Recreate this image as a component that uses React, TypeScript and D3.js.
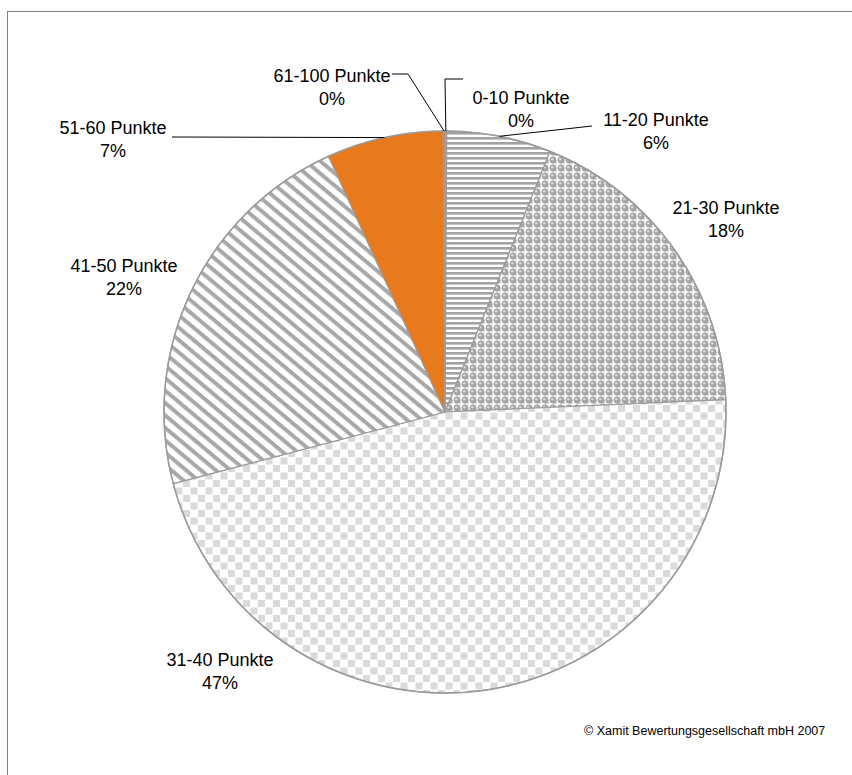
import { useEffect, useRef } from "react";
import * as d3 from "d3";

const categories = [
  "0-10 Punkte",
  "11-20 Punkte",
  "21-30 Punkte",
  "31-40 Punkte",
  "41-50 Punkte",
  "51-60 Punkte",
  "61-100 Punkte",
];
const shares = [0.1, 6.0, 18.2, 46.6, 22.3, 6.7, 0.1];
const percentLabels = ["0%", "6%", "18%", "47%", "22%", "7%", "0%"];
const copyright = "© Xamit Bewertungsgesellschaft mbH 2007";

// layout only: label block centres and leader elbows, relative to pie centre
const labelOffsets: [number, number][] = [
  [76, -303],
  [211, -281],
  [281, -193],
  [-225, 259],
  [-321, -135],
  [-332, -273],
  [-113, -325],
];
const leaderElbows: ([number, number][] | null)[] = [
  [[0, -333], [18, -333]],
  [[147, -286]],
  null,
  null,
  null,
  [[-273, -275]],
  [[-37, -338], [-53, -338]],
];
const fills = [
  "url(#hstripe)",
  "url(#hstripe)",
  "url(#spheres)",
  "url(#checker)",
  "url(#diag)",
  "#E8791C",
  "#E8791C",
];

export default function App() {
  const ref = useRef<SVGSVGElement>(null);

  useEffect(() => {
    if (!ref.current) return;
    const width = 852;
    const height = 775;
    const cx = 445;
    const cy = 412;
    const radius = 281;

    const svg = d3.select(ref.current);
    svg.selectAll("*").remove();
    svg.attr("width", width).attr("height", height);

    const defs = svg.append("defs");

    // horizontal stripes
    const hs = defs.append("pattern").attr("id", "hstripe")
      .attr("patternUnits", "userSpaceOnUse").attr("width", 6).attr("height", 5);
    hs.append("rect").attr("width", 6).attr("height", 5).attr("fill", "#ffffff");
    hs.append("rect").attr("y", 0).attr("width", 6).attr("height", 2.6).attr("fill", "#a3a3a3");

    // spheres
    const sp = defs.append("pattern").attr("id", "spheres")
      .attr("patternUnits", "userSpaceOnUse").attr("width", 8).attr("height", 8);
    sp.append("rect").attr("width", 8).attr("height", 8).attr("fill", "#ffffff");
    sp.append("rect").attr("x", 4).attr("y", 4).attr("width", 4).attr("height", 4).attr("fill", "#d6d6d6");
    sp.append("circle").attr("cx", 4).attr("cy", 4).attr("r", 3.4).attr("fill", "#a2a2a2");
    sp.append("circle").attr("cx", 3.2).attr("cy", 3.2).attr("r", 1.2).attr("fill", "#dedede");

    // checker
    const ck = defs.append("pattern").attr("id", "checker")
      .attr("patternUnits", "userSpaceOnUse").attr("width", 15).attr("height", 15);
    ck.append("rect").attr("width", 15).attr("height", 15).attr("fill", "#ffffff");
    ck.append("rect").attr("x", 0.5).attr("y", 0.5).attr("width", 7).attr("height", 7).attr("fill", "#dadada");
    ck.append("rect").attr("x", 8).attr("y", 8).attr("width", 7).attr("height", 7).attr("fill", "#dadada");

    // diagonal stripes (downward)
    const dg = defs.append("pattern").attr("id", "diag")
      .attr("patternUnits", "userSpaceOnUse").attr("width", 10).attr("height", 9.5)
      .attr("patternTransform", "rotate(40)");
    dg.append("rect").attr("width", 10).attr("height", 9.5).attr("fill", "#ffffff");
    dg.append("rect").attr("y", 0).attr("width", 10).attr("height", 4).attr("fill", "#a8a8a8");

    // chart area border
    svg.append("rect")
      .attr("x", 7.5).attr("y", 11.5)
      .attr("width", width + 20).attr("height", height + 20)
      .attr("fill", "#ffffff").attr("stroke", "#7f7f7f").attr("stroke-width", 1);

    const pie = d3.pie<number>().sort(null).value((d) => d);
    const arcs = pie(shares);
    const arc = d3.arc<d3.PieArcDatum<number>>().innerRadius(0).outerRadius(radius);

    const g = svg.append("g").attr("transform", `translate(${cx},${cy})`);

    g.selectAll("path.slice")
      .data(arcs)
      .join("path")
      .attr("class", "slice")
      .attr("d", arc)
      .attr("fill", (_, i) => fills[i])
      .attr("stroke", "#9c9c9c")
      .attr("stroke-width", 1.2)
      .attr("stroke-linejoin", "round");

    g.append("circle")
      .attr("r", radius)
      .attr("fill", "none")
      .attr("stroke", "#9a9a9a")
      .attr("stroke-width", 1.5);

    // leader lines
    const line = d3.line();
    arcs.forEach((a, i) => {
      const elbows = leaderElbows[i];
      if (!elbows) return;
      const mid = (a.startAngle + a.endAngle) / 2;
      const start: [number, number] = [radius * Math.sin(mid), -radius * Math.cos(mid)];
      g.append("path")
        .attr("d", line([start, ...elbows]))
        .attr("fill", "none")
        .attr("stroke", "#000000")
        .attr("stroke-width", 1);
    });

    // labels
    const labels = g.selectAll("text.lbl")
      .data(categories)
      .join("text")
      .attr("class", "lbl")
      .attr("text-anchor", "middle")
      .attr("font-family", "Liberation Sans, Arial, sans-serif")
      .attr("font-size", 18)
      .attr("fill", "#000000");
    labels.append("tspan")
      .attr("x", (_, i) => labelOffsets[i][0])
      .attr("y", (_, i) => labelOffsets[i][1] - 11.5)
      .attr("dominant-baseline", "central")
      .text((d) => d);
    labels.append("tspan")
      .attr("x", (_, i) => labelOffsets[i][0])
      .attr("y", (_, i) => labelOffsets[i][1] + 11.5)
      .attr("dominant-baseline", "central")
      .text((_, i) => percentLabels[i]);

    svg.append("text")
      .attr("x", 584)
      .attr("y", 735)
      .attr("font-family", "Liberation Sans, Arial, sans-serif")
      .attr("font-size", 12.5)
      .attr("fill", "#000000")
      .text(copyright);
  }, []);

  return (
    <svg ref={ref} style={{ position: "absolute", left: 0, top: 0, display: "block" }} />
  );
}
